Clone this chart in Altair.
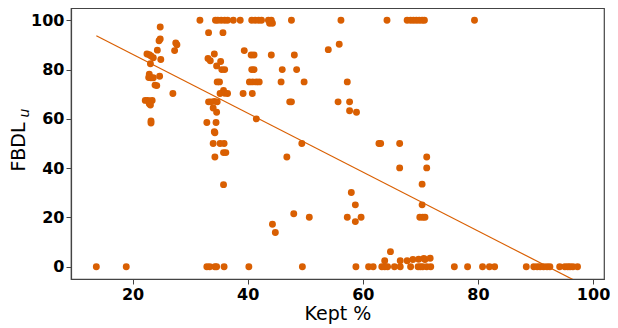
import altair as alt
import pandas as pd

# Kept % (x) and FBDL_u (y)
kept = [
    # y = 0 row
    13.7, 18.9, 32.9, 33.4, 34.3, 34.6, 35.9, 40.2, 49.5, 58.8, 61.0, 61.8, 63.3, 63.8,
    64.3, 65.5, 66.5, 68.3, 69.6, 70.0, 70.4, 71.1, 71.8, 75.9, 78.2, 80.8, 82.0, 82.9,
    88.4, 89.7, 90.3, 90.8, 91.4, 92.0, 92.5, 94.2, 95.1, 95.6, 96.0, 96.5, 97.3,
    # near zero
    63.8, 64.8, 66.5, 67.7, 68.7, 69.7, 70.6, 70.8, 71.7,
    # low-mid
    44.3, 44.8, 48.0, 50.7, 57.3, 58.0, 58.7, 58.7, 59.7, 69.9, 70.4, 70.8, 70.3, 70.3,
    66.4, 71.1, 71.1, 35.8, 46.8, 34.3, 35.8, 36.2,
    34.0, 35.2, 35.9, 49.4, 62.8, 63.1, 66.4,
    34.2, 34.3, 32.9, 34.5, 23.2, 23.2, 41.5,
    34.6, 34.0, 57.7, 58.9,
    # ~67
    22.2, 22.6, 23.0, 23.4, 22.9, 23.1, 33.2, 33.6, 34.2, 34.7, 47.3, 47.6, 55.7, 57.7,
    # ~70
    27.0, 35.8, 35.2, 36.0, 36.5, 39.2, 40.8,
    # ~75
    34.7, 35.1, 40.3, 40.9, 41.5, 42.0, 45.8, 49.8, 57.3, 23.9, 24.2,
    # ~77
    22.9, 22.8, 23.2, 23.6, 24.7,
    # ~80
    35.5, 36.0, 40.7, 41.1, 46.0, 48.5,
    34.6, 23.1, 33.1, 33.5, 35.3, 24.9,
    # ~86
    22.5, 22.9, 23.2, 23.6, 34.2, 40.6, 41.1, 44.1, 48.1,
    24.3, 27.3, 39.4, 54.0, 55.9, 27.5, 27.7, 24.8, 24.6, 24.8, 33.2, 35.7,
    43.8, 44.3,
    # y = 100
    31.7, 34.4, 34.8, 35.4, 36.0, 36.5, 37.5, 38.7, 40.7, 41.3, 41.9, 42.4, 43.6, 44.1,
    47.6, 56.2, 64.2, 67.7, 68.3, 68.8, 69.3, 69.8, 70.3, 70.7, 79.4,
]
fbdl = (
    [0.0] * 41
    + [2.4, 6.1, 2.4, 2.4, 2.9, 3.0, 3.3, 2.9, 3.4]
    + [17.2, 13.9, 21.5, 20.1, 20.1, 30.1, 25.1, 18.3, 20.1, 20.1, 20.1, 20.1, 25.1, 33.5,
       40.1, 40.1, 44.5, 33.3, 44.5, 44.5, 46.3, 46.3,
       50.0, 50.0, 50.0, 50.0, 50.0, 50.0, 50.0,
       54.8, 54.4, 58.5, 58.5, 59.1, 58.3, 60.0,
       62.7, 64.4, 63.3, 62.7]
    + [67.5, 67.5, 67.3, 67.5, 66.1, 65.6, 66.9, 66.9, 67.1, 66.9, 66.9, 66.9, 66.9, 66.9]
    + [70.3, 71.5, 70.3, 70.4, 70.3, 70.3, 70.3]
    + [75.0, 75.0, 75.0, 75.0, 75.0, 75.0, 75.0, 75.0, 75.0, 73.7, 73.5]
    + [78.1, 76.8, 76.7, 76.7, 77.3]
    + [80.0, 80.0, 80.0, 80.0, 80.0, 80.0,
       81.5, 82.4, 84.5, 83.6, 83.3, 84.1]
    + [86.3, 86.0, 85.5, 84.8, 86.3, 85.9, 85.9, 85.9, 85.9,
       87.9, 87.7, 87.7, 88.1, 90.3, 90.8, 90.1, 92.4, 91.7, 97.3, 95.0, 95.0,
       98.8, 98.8]
    + [100.0] * 25
)

# Least-squares fit line as drawn in the reference
fit_intercept = 110.1
fit_slope = -1.195

x_ticks = [20, 40, 60, 80, 100]
y_ticks = [0, 20, 40, 60, 80, 100]

df = pd.DataFrame({"kept": kept, "fbdl": fbdl})
fit_x = [min(kept), max(kept)]
fit_df = pd.DataFrame({"kept": fit_x, "fbdl": [fit_intercept + fit_slope * v for v in fit_x]})
label_df = pd.DataFrame({"t": ["FBDL"]})
sub_df = pd.DataFrame({"t": ["u"]})

COLOR = "#d95f02"

x_enc = alt.X("kept:Q",
              scale=alt.Scale(domain=[9.3, 101.9], nice=False, zero=False),
              axis=alt.Axis(values=x_ticks, title="Kept %", titleFontSize=19,
                            titleFontWeight="normal", titlePadding=2,
                            labelFlush=False, labelOverlap=False))
y_enc = alt.Y("fbdl:Q",
              scale=alt.Scale(domain=[-5, 105], nice=False, zero=False),
              axis=alt.Axis(values=y_ticks, title=None, labelOverlap=False))

points = alt.Chart(df).mark_circle(size=48, opacity=1, color=COLOR).encode(x=x_enc, y=y_enc)

line = alt.Chart(fit_df).mark_line(
    color=COLOR, strokeWidth=1.2, clip=True
).encode(x=alt.X("kept:Q"), y=alt.Y("fbdl:Q"))

ylab = alt.Chart(label_df).mark_text(
    angle=270, align="center", baseline="middle", fontSize=19,
    font="DejaVu Sans", color="black"
).encode(text="t:N", x=alt.value(-52), y=alt.value(139))

ysub = alt.Chart(sub_df).mark_text(
    angle=270, align="center", baseline="middle", fontSize=14, fontStyle="italic",
    font="DejaVu Sans", color="black"
).encode(text="t:N", x=alt.value(-46), y=alt.value(105))

chart = alt.layer(points, line, ylab, ysub).properties(
    width=533, height=271,
    autosize=alt.AutoSizeParams(type="none"),
    padding={"left": 63, "top": 0, "right": 6, "bottom": 49},
).configure_view(
    stroke="#444", strokeWidth=1.2
).configure_axis(
    labelFont="DejaVu Sans", labelFontSize=16, labelFontWeight="bold", labelColor="black",
    titleFont="DejaVu Sans", titleColor="black",
    grid=False, domainColor="#444", domainWidth=1.2, tickColor="#444", tickSize=5,
    labelPadding=2,
)

chart.save("out.html", embed_options={"renderer": "svg", "actions": False})
